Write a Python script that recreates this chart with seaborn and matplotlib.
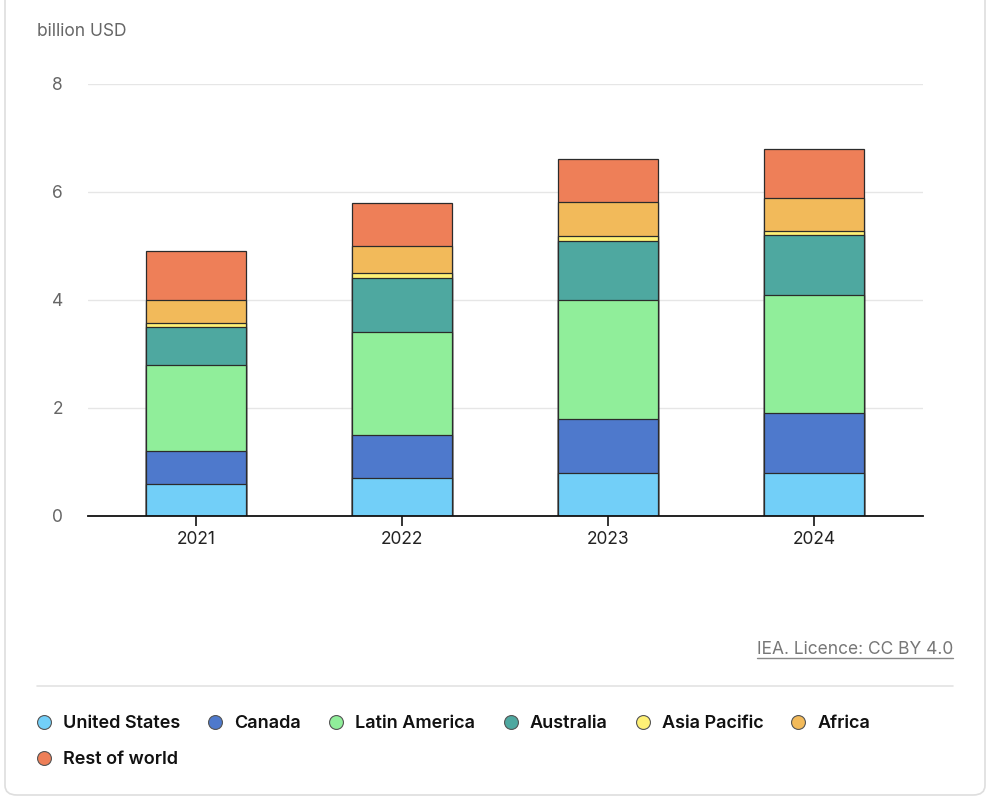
import matplotlib
matplotlib.use("Agg")
import matplotlib.pyplot as plt
from matplotlib.patches import FancyBboxPatch
from matplotlib.lines import Line2D
import seaborn as sns
import pandas as pd
import numpy as np

years = ["2021", "2022", "2023", "2024"]
series_names = ["United States", "Canada", "Latin America", "Australia",
                "Asia Pacific", "Africa", "Rest of world"]
united_states = [0.6, 0.7, 0.8, 0.8]
canada = [0.6, 0.8, 1.0, 1.1]
latin_america = [1.6, 1.9, 2.2, 2.2]
australia = [0.7, 1.0, 1.1, 1.1]
asia_pacific = [0.08, 0.1, 0.09, 0.08]
africa = [0.42, 0.5, 0.62, 0.61]
rest_of_world = [0.9, 0.8, 0.8, 0.91]
colors = ["#72CFF8", "#4E79CC", "#90EE9A", "#4EA8A0", "#FFF176", "#F2BA5A", "#EE7F58"]

values = [united_states, canada, latin_america, australia, asia_pacific, africa, rest_of_world]
df = pd.DataFrame({name: v for name, v in zip(series_names, values)}, index=years)
cum = df.cumsum(axis=1)

sns.set_theme(style="white")
plt.rcParams['font.family'] = ['Inter', 'DejaVu Sans']

fig = plt.figure(figsize=(9.9, 8), dpi=100)
fig.patch.set_facecolor("white")

# card border
card = FancyBboxPatch((5 / 990, 5 / 800), 980 / 990, 820 / 800,
                      boxstyle="round,pad=0,rounding_size=0.012",
                      transform=fig.transFigure, facecolor="white",
                      edgecolor="#dedede", linewidth=1.2, zorder=0)
fig.add_artist(card)

ax = fig.add_axes([88 / 990, 1 - 516 / 800, (923 - 88) / 990, (516 - 84) / 800])
ax.set_facecolor("none")

# stacked bars: draw cumulative totals from top series down
for name, col in reversed(list(zip(series_names, colors))):
    d = pd.DataFrame({"year": years, "value": cum[name].values})
    sns.barplot(data=d, x="year", y="value", color=col, width=0.485,
                edgecolor="#2b2b2b", linewidth=0.9, saturation=1, ax=ax, zorder=3)

ax.set_ylim(0, 8)
ax.set_xlim(-0.524, 3.53)
ax.set_yticks([0, 2, 4, 6, 8])
ax.set_xlabel("")
ax.set_ylabel("")
ax.yaxis.grid(True, color="#e6e6e6", linewidth=1)
ax.set_axisbelow(True)
for s in ["top", "right", "left"]:
    ax.spines[s].set_visible(False)
ax.spines["bottom"].set_color("#111111")
ax.spines["bottom"].set_linewidth(1.3)
ax.spines["bottom"].set_zorder(5)
ax.tick_params(axis="x", length=7, width=1.2, color="#111111", direction="out",
               pad=4, labelsize=12.5, labelcolor="#222222", bottom=True)
ax.tick_params(axis="y", length=0, pad=18, labelsize=12.5, labelcolor="#666666")

fig.text(37 / 990, 1 - 31 / 800, "billion USD", fontsize=12.5, color="#666666",
         ha="left", va="center")

# source text
fig.text(953 / 990, 1 - 649 / 800, "IEA. Licence: CC BY 4.0", fontsize=12.5,
         color="#777777", ha="right", va="center")
fig.add_artist(Line2D([757 / 990, 953 / 990], [1 - 658 / 800, 1 - 658 / 800],
                      transform=fig.transFigure, color="#888888", linewidth=1))
# separator
fig.add_artist(Line2D([37 / 990, 953 / 990], [1 - 686 / 800, 1 - 686 / 800],
                      transform=fig.transFigure, color="#e3e3e3", linewidth=1.2))

handles = {n: Line2D([0], [0], marker="o", linestyle="none", markersize=10,
                     markerfacecolor=c, markeredgecolor="#555555", markeredgewidth=0.8)
           for n, c in zip(series_names, colors)}
# legend fills column-wise; reorder so it reads row-wise
order = [0, 6, 1, 2, 3, 4, 5]
leg = fig.legend([handles[series_names[i]] for i in order],
                 [series_names[i] for i in order], ncol=6, loc="upper left",
                 bbox_to_anchor=(35 / 990, 1 - 715 / 800), frameon=False,
                 prop={"size": 13, "weight": "semibold"}, handletextpad=0.55,
                 columnspacing=1.45, labelspacing=1.05, handlelength=1.0,
                 borderaxespad=0, borderpad=0)
for txt in leg.get_texts():
    txt.set_color("#111111")

fig.savefig("out.png", dpi=100, facecolor="white")
